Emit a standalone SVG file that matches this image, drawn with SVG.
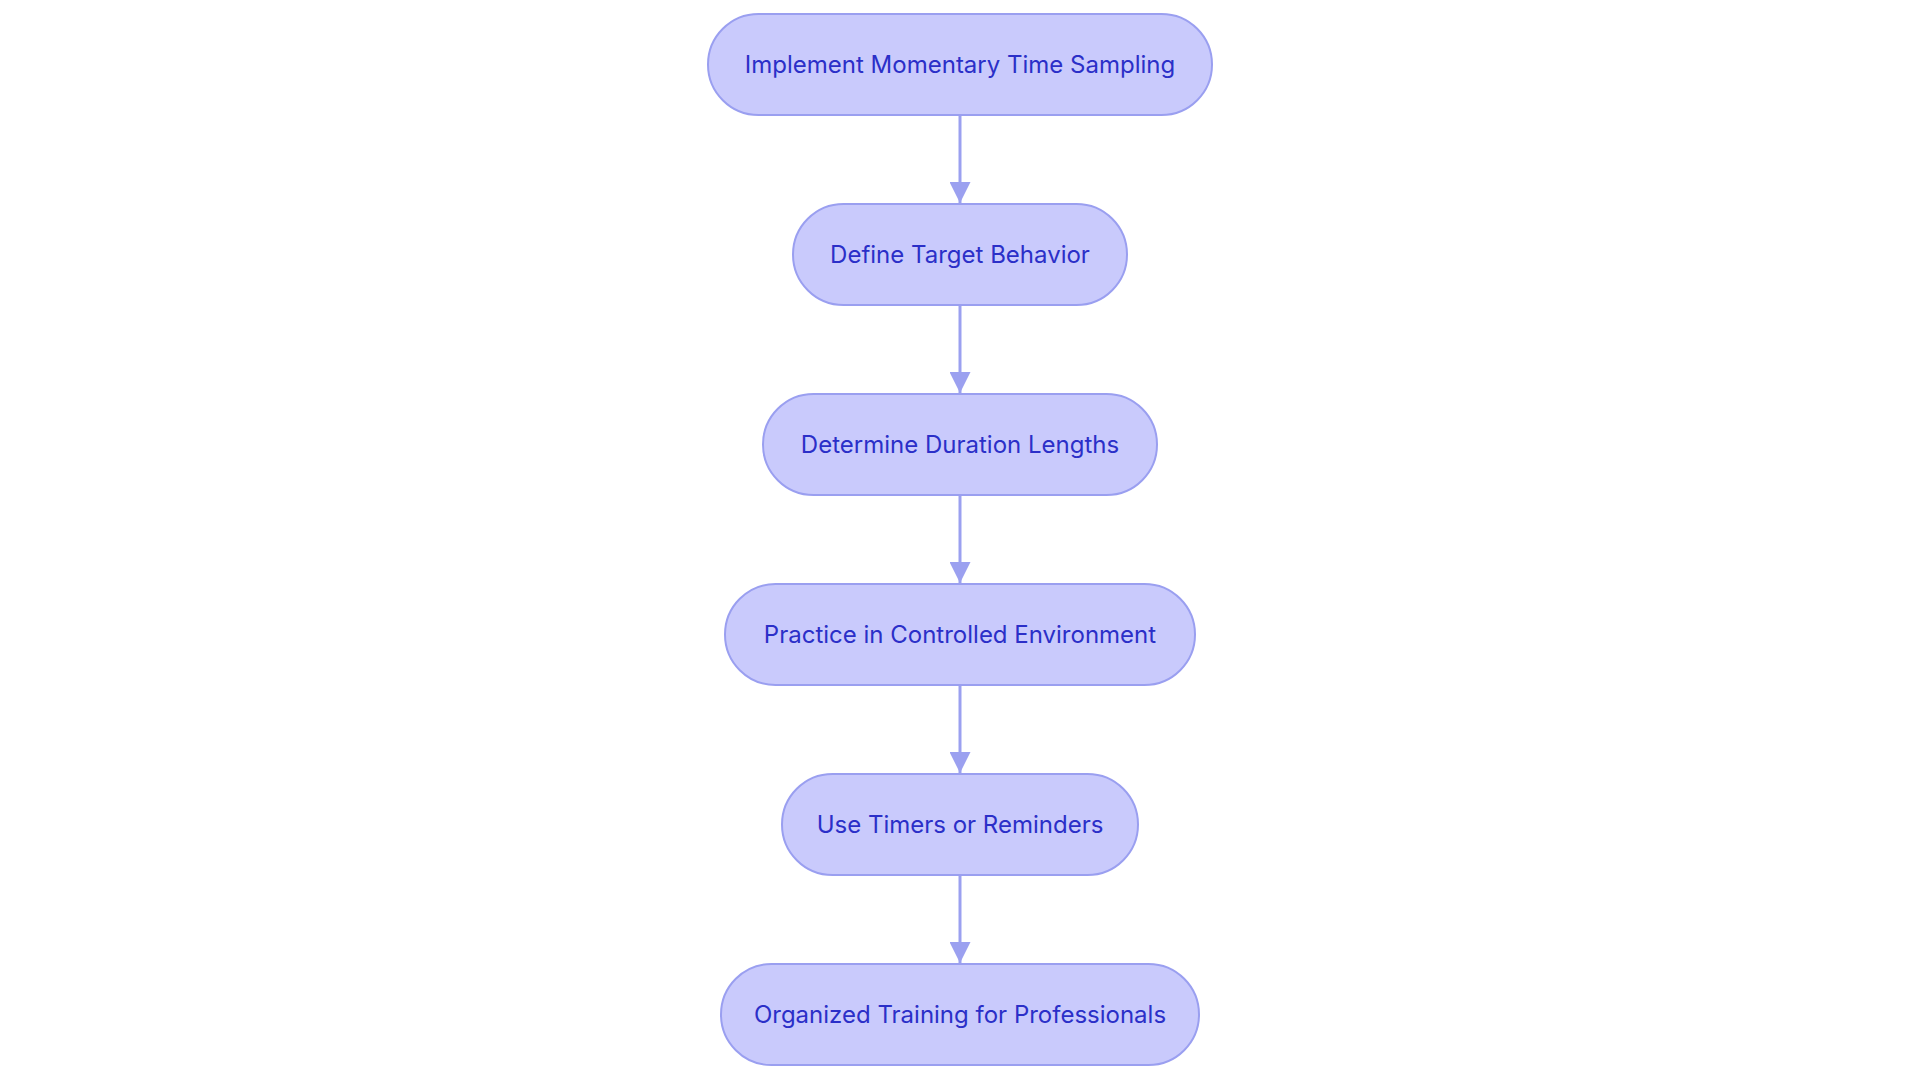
<svg xmlns="http://www.w3.org/2000/svg" width="1920" height="1083" viewBox="0 0 1920 1083">
<style>
.node rect{fill:#C9CAFC;stroke:#9A9FF0;stroke-width:2}
.node text{font-family:Inter,"Liberation Sans",sans-serif;font-size:24px;fill:#2B2FC8;text-anchor:middle}
.edge{stroke:#9BA0F0;stroke-width:3;fill:none}
</style>
<defs>
<marker id="arr" viewBox="0 0 10 10" refX="10" refY="5" markerWidth="7" markerHeight="7" markerUnits="strokeWidth" orient="auto">
<path d="M0,0 L10,5 L0,10 z" fill="#9BA0F0"/>
</marker>
</defs>
<g id="connectors">
<path class="edge" d="M960,115 V203" marker-end="url(#arr)"/>
<path class="edge" d="M960,305 V393" marker-end="url(#arr)"/>
<path class="edge" d="M960,495 V583" marker-end="url(#arr)"/>
<path class="edge" d="M960,685 V773" marker-end="url(#arr)"/>
<path class="edge" d="M960,875 V963" marker-end="url(#arr)"/>
</g>
<g id="n1" class="node"><rect x="708" y="14" width="504" height="101" rx="50.5"/><text x="960" y="72.5">Implement Momentary Time Sampling</text></g>
<g id="n2" class="node"><rect x="793" y="204" width="334" height="101" rx="50.5"/><text x="960" y="262.5">Define Target Behavior</text></g>
<g id="n3" class="node"><rect x="763" y="394" width="394" height="101" rx="50.5"/><text x="960" y="452.5">Determine Duration Lengths</text></g>
<g id="n4" class="node"><rect x="725" y="584" width="470" height="101" rx="50.5"/><text x="960" y="642.5">Practice in Controlled Environment</text></g>
<g id="n5" class="node"><rect x="782" y="774" width="356" height="101" rx="50.5"/><text x="960" y="832.5">Use Timers or Reminders</text></g>
<g id="n6" class="node"><rect x="721" y="964" width="478" height="101" rx="50.5"/><text x="960" y="1022.5">Organized Training for Professionals</text></g>
</svg>
